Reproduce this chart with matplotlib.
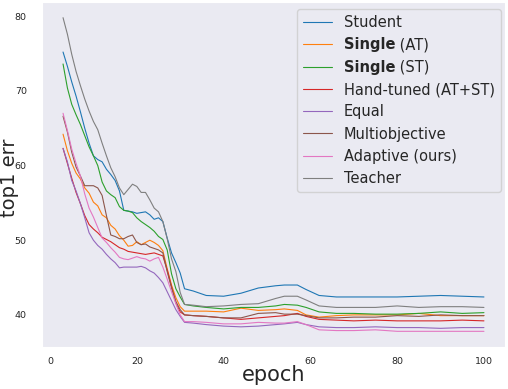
import matplotlib
matplotlib.use("Agg")
import matplotlib.pyplot as plt
import matplotlib.transforms as mtransforms
import seaborn as sns

epochs = [3, 4, 5, 6, 7, 8, 9, 10, 11, 12, 13, 14, 15, 16, 17, 18, 19, 20, 21, 22, 23, 24, 25, 26,
          27, 28, 29, 30, 31, 33, 36, 40, 44, 48, 52, 54, 57, 59, 62, 66, 70, 75, 80, 85, 90, 95, 100]

student = [75.2, 73.3, 71.2, 69.3, 67.2, 65.0, 63.0, 61.3, 60.8, 60.5, 59.5, 58.8, 58.0, 56.6, 54.0, 53.9,
           53.8, 53.6, 53.7, 53.8, 53.4, 52.8, 53.0, 52.5, 50.3, 48.3, 47.0, 45.6, 43.5, 43.2, 42.6, 42.5,
           42.9, 43.6, 43.9, 44.0, 44.0, 43.4, 42.6, 42.4, 42.4, 42.4, 42.4, 42.5, 42.6, 42.5, 42.4]
single_at = [64.2, 62.0, 60.3, 59.0, 58.2, 57.0, 56.3, 55.1, 54.6, 53.4, 53.0, 52.0, 51.5, 50.6, 50.0, 49.2,
             49.3, 49.8, 49.4, 49.7, 50.0, 49.7, 49.3, 48.6, 46.2, 44.0, 42.3, 41.1, 40.5, 40.5, 40.5, 40.4,
             40.9, 40.6, 40.7, 40.8, 40.6, 40.0, 39.7, 39.9, 40.0, 40.0, 40.0, 40.2, 39.9, 39.9, 39.9]
single_st = [73.6, 70.4, 68.2, 66.8, 65.5, 64.0, 62.5, 61.3, 60.0, 57.8, 56.6, 56.1, 55.7, 54.5, 54.0, 53.9,
             53.7, 53.0, 52.5, 52.1, 51.7, 51.2, 50.5, 50.1, 48.7, 45.5, 43.5, 42.4, 41.4, 41.2, 41.0, 40.8,
             41.0, 41.0, 41.2, 41.4, 41.3, 41.0, 40.4, 40.2, 40.2, 40.1, 40.1, 40.2, 40.4, 40.2, 40.3]
hand_tuned = [62.3, 60.3, 58.3, 56.4, 54.9, 53.3, 52.1, 51.5, 51.0, 50.4, 50.1, 49.8, 49.4, 49.0, 48.8, 48.5,
              48.4, 48.3, 48.2, 48.1, 48.2, 48.3, 48.1, 47.9, 46.0, 43.8, 41.6, 40.4, 40.0, 39.9, 39.8, 39.6,
              39.4, 39.6, 39.8, 39.9, 40.2, 39.8, 39.4, 39.3, 39.2, 39.3, 39.2, 39.2, 39.2, 39.3, 39.2]
equal = [62.3, 60.5, 58.0, 56.6, 54.9, 53.0, 51.0, 50.0, 49.3, 48.8, 48.1, 47.5, 47.0, 46.3, 46.4, 46.4,
         46.4, 46.4, 46.5, 46.3, 45.9, 45.6, 45.0, 44.3, 43.1, 41.9, 40.7, 39.8, 39.0, 38.9, 38.7, 38.5,
         38.4, 38.5, 38.7, 38.8, 39.0, 38.7, 38.4, 38.3, 38.3, 38.4, 38.3, 38.3, 38.2, 38.3, 38.3]
multiobjective = [66.6, 64.5, 61.8, 59.8, 58.6, 57.3, 57.3, 57.3, 57.0, 56.0, 53.3, 50.7, 50.5, 50.2, 50.2, 50.5,
                  50.7, 49.7, 49.4, 49.5, 49.1, 48.9, 48.7, 48.3, 45.8, 43.6, 41.8, 40.7, 40.0, 39.9, 39.8, 39.6,
                  39.6, 40.2, 40.3, 40.1, 40.1, 39.9, 39.6, 39.6, 39.7, 39.7, 39.9, 39.8, 40.0, 39.9, 39.9]
adaptive = [67.0, 64.7, 62.2, 60.3, 58.6, 56.2, 54.3, 53.1, 51.7, 50.3, 49.7, 49.0, 48.4, 47.7, 47.5, 47.4,
            47.6, 47.8, 47.6, 47.5, 47.2, 47.5, 47.7, 46.4, 44.8, 43.1, 41.5, 40.0, 39.1, 39.1, 39.0, 38.8,
            38.8, 39.0, 38.9, 38.9, 39.1, 38.7, 38.0, 37.9, 37.9, 38.0, 37.8, 37.8, 37.8, 37.8, 37.8]
teacher = [79.8, 77.6, 74.9, 72.6, 70.7, 68.9, 67.3, 65.9, 64.8, 63.0, 61.3, 59.7, 58.5, 57.0, 56.1, 56.8,
           57.5, 57.2, 56.4, 56.4, 55.4, 54.3, 53.8, 52.5, 50.2, 47.5, 45.8, 43.0, 41.4, 41.3, 41.1, 41.2,
           41.4, 41.5, 42.2, 42.5, 42.5, 42.0, 41.2, 41.0, 41.0, 41.0, 41.2, 41.0, 41.1, 41.1, 41.0]

labels = ["Student", "Single (AT)", "Single (ST)", "Hand-tuned (AT+ST)",
          "Equal", "Multiobjective", "Adaptive (ours)", "Teacher"]
bold_word = "Single"
series = [student, single_at, single_st, hand_tuned, equal, multiobjective, adaptive, teacher]
colors = ["#1f77b4", "#ff7f0e", "#2ca02c", "#d62728", "#9467bd", "#8c564b", "#e377c2", "#7f7f7f"]

sns.set_style("dark")
plt.rcParams["font.family"] = ["DejaVu Sans"]

fig = plt.figure(figsize=(5.08, 3.89), dpi=100)
ax = fig.add_axes([42 / 508, 1 - 347 / 389, (505 - 42) / 508, (347 - 2) / 389])

for vals, lab, col in zip(series, labels, colors):
    ax.plot(epochs, vals, color=col, lw=0.8, label=lab)

ax.set_xticks([0, 20, 40, 60, 80, 100])
ax.set_yticks([40, 50, 60, 70, 80])
ax.tick_params(axis="both", length=0, labelsize=6.8, colors="0.15")
ax.tick_params(axis="x", pad=7.5)
ax.tick_params(axis="y", pad=11)
ax.set_xlabel("epoch", fontsize=15, color="0.15", labelpad=-1)
ax.set_ylabel("top1 err", fontsize=14, color="0.15")
ax.yaxis.set_label_coords(-0.0505, 0.49)

leg_fs = 10.5
leg = ax.legend(loc="upper right", bbox_to_anchor=(500.7 / 508, 1 - 9.3 / 389),
                bbox_transform=fig.transFigure, borderaxespad=0, fontsize=leg_fs,
                labelspacing=0.5, frameon=True, edgecolor="0.8")

# Partly bold legend labels: the legend keeps a plain-height (empty) row, the
# bold word and the rest of the label are drawn at the row's text anchor.
fig.canvas.draw()
renderer = fig.canvas.get_renderer()
ident = mtransforms.IdentityTransform()
for t in leg.get_texts():
    s = t.get_text()
    if s.startswith(bold_word):
        x, y = t.get_transform().transform(t.get_position())
        t.set_text("")
        tb = fig.text(x, y, bold_word, transform=ident, fontsize=leg_fs, fontweight="bold",
                      color="0.15", ha="left", va="baseline", zorder=10)
        w = tb.get_window_extent(renderer).width
        fig.text(x + w, y, s[len(bold_word):], transform=ident, fontsize=leg_fs,
                 color="0.15", ha="left", va="baseline", zorder=10)

fig.savefig("out.png", dpi=100)
